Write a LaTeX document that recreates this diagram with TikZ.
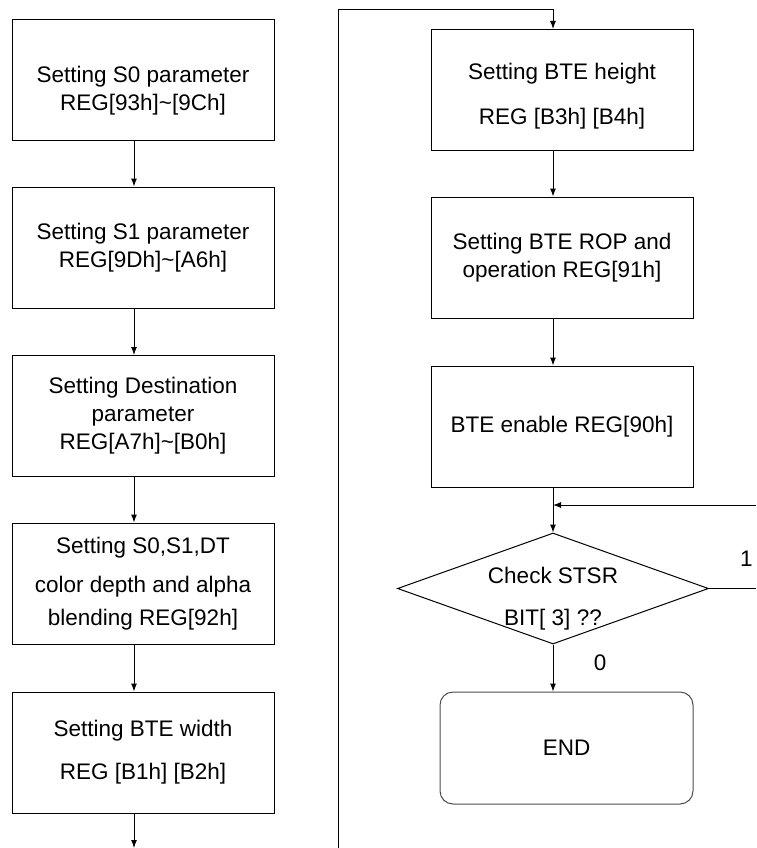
\documentclass[tikz,border=0pt]{standalone}
\usepackage{fontspec}
\setmainfont{Liberation Sans}
\usetikzlibrary{arrows.meta, shapes.geometric}

\begin{document}
\begin{tikzpicture}[x=1pt, y=-1pt,
    every node/.style={font=\fontsize{22.5}{28}\selectfont, align=center},
    box/.style={draw, line width=1pt, minimum width=262pt, minimum height=121pt, inner sep=0pt},
    endbox/.style={draw=black!70, line width=1pt, rounded corners=13pt, minimum width=253pt, minimum height=112pt},
    test/.style={draw, line width=1pt, diamond, aspect=2.8, minimum width=311pt, minimum height=111pt, inner xsep=-15pt, inner ysep=-10pt},
    flow/.style={line width=1pt, -{Latex[length=8pt,width=6pt]}},
    wire/.style={line width=1pt}]
  \useasboundingbox (0,0) rectangle (756,848);
  \node[box] (s0) at (143,80) {\rule{0pt}{37pt}Setting S0 parameter\\REG[93h]\textasciitilde[9Ch]};
  \node[box] (s1) at (143,247.5) {Setting S1 parameter\\REG[9Dh]\textasciitilde[A6h]};
  \node[box] (dst) at (143,416) {Setting Destination\\parameter\\REG[A7h]\textasciitilde[B0h]};
  \node[box] (dep) at (143,583.5) {Setting S0,S1,DT\\[11pt]color depth and alpha\\[5pt]blending REG[92h]};
  \node[box] (bw) at (143,752.5) {Setting BTE width\\[15pt]REG [B1h] [B2h]};
  \node[box] (bh) at (562,90) {\rule{0pt}{28pt}Setting BTE height\\[17pt]REG [B3h] [B4h]};
  \node[box] (rop) at (562,257.5) {Setting BTE ROP and\\operation REG[91h]};
  \node[box] (en) at (562,426.5) {BTE enable REG[90h]};
  \node[test] (chk) at (553,588.5) {\rule{0pt}{37pt}Check STSR\\[14pt]BIT[ 3] ??};
  \node[endbox] (done) at (566.5,748) {END};
  \node[anchor=base west, inner sep=0pt] (one) at (740,566) {1};
  \node[anchor=base, inner sep=0pt] (zero) at (600,670) {0};
  \coordinate (down) at (134,848);
  \coordinate (up) at (338,848);
  \coordinate (top) at (338,10);
  \coordinate (loopout) at (756,588.5);
  \coordinate (loopin) at (756,505);
  \draw[flow] ([xshift=-9pt]s0.south) -- ([xshift=-9pt]s1.north);
  \draw[flow] ([xshift=-9pt]s1.south) -- ([xshift=-9pt]dst.north);
  \draw[flow] ([xshift=-9pt]dst.south) -- ([xshift=-9pt]dep.north);
  \draw[flow] ([xshift=-9pt]dep.south) -- ([xshift=-9pt]bw.north);
  \draw[flow] ([xshift=-9pt]bw.south) -- (down);
  \draw[flow] (up) -- (top) -| ([xshift=-9pt]bh.north);
  \draw[flow] ([xshift=-9pt]bh.south) -- ([xshift=-9pt]rop.north);
  \draw[flow] ([xshift=-9pt]rop.south) -- ([xshift=-9pt]en.north);
  \draw[flow] ([xshift=-9pt]en.south) -- (chk.north);
  \draw[flow] (chk.south) -- (chk.south |- done.north);
  \draw[wire] (chk.east) -- (loopout);
  \draw[flow] (loopin) -- (loopin -| chk.north);
\end{tikzpicture}
\end{document}
